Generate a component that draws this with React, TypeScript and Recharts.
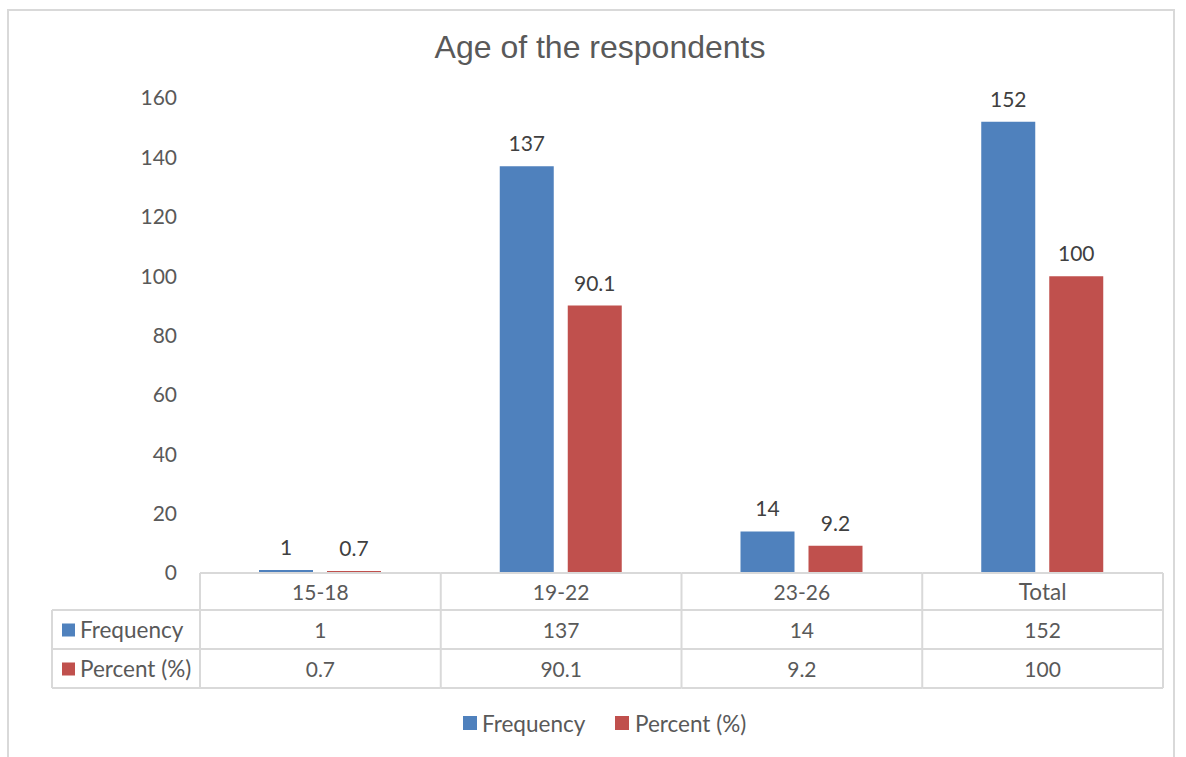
import { BarChart, Bar, XAxis, YAxis, LabelList } from 'recharts';

const categories = ['15-18', '19-22', '23-26', 'Total'];
const frequency = [1, 137, 14, 152];
const percent = [0.7, 90.1, 9.2, 100];
const yTicks = [0, 20, 40, 60, 80, 100, 120, 140, 160];
const seriesNames = ['Frequency', 'Percent (%)'];

const BLUE = '#4F81BD';
const RED = '#C0504D';
const TEXT = '#595959';
const LINE = '#D9D9D9';
const FONT = 'Lato, "Open Sans", sans-serif';
const NUM_SIZE = 21;
const WORD_SIZE = 22.5;

const W = 1186;
const H = 757;
const PLOT_LEFT = 200;
const PLOT_RIGHT = 1163;
const PLOT_TOP = 98;
const PLOT_BOTTOM = 573;
const ROWS = [0, 37, 76, 115]; // table row boundaries below the axis
const LEFT_COL = 52;

const data = categories.map((c, i) => ({
  category: c,
  frequency: frequency[i],
  percent: percent[i],
}));

const sizeFor = (s: string | number) => (/[A-Za-z]/.test(String(s)) ? WORD_SIZE : NUM_SIZE);

// draws one column of the data table under the plot (plus the row headers on the first one)
function TableTick(props: any) {
  const { x, y, payload, index } = props;
  const half = payload?.offset > 0 ? payload.offset : (PLOT_RIGHT - PLOT_LEFT) / categories.length / 2;
  const i = index;
  const left = x - half;
  const right = x + half;
  const rowMid = (r: number) => y + (ROWS[r] + ROWS[r + 1]) / 2;
  const txt = { fontFamily: FONT, fill: TEXT };

  return (
    <g>
      {i === 0 && (
        <g>
          <line x1={LEFT_COL} x2={left} y1={y + ROWS[1]} y2={y + ROWS[1]} stroke={LINE} strokeWidth={2} />
          <line x1={LEFT_COL} x2={left} y1={y + ROWS[2]} y2={y + ROWS[2]} stroke={LINE} strokeWidth={2} />
          <line x1={LEFT_COL} x2={left} y1={y + ROWS[3]} y2={y + ROWS[3]} stroke={LINE} strokeWidth={2} />
          <line x1={LEFT_COL} x2={LEFT_COL} y1={y + ROWS[1]} y2={y + ROWS[3]} stroke={LINE} strokeWidth={2} />
          <line x1={left} x2={left} y1={y} y2={y + ROWS[3]} stroke={LINE} strokeWidth={2} />
          <rect x={62} y={rowMid(1) - 6} width={13} height={13} fill={BLUE} />
          <text x={80} y={rowMid(1)} dominantBaseline="central" fontSize={WORD_SIZE} {...txt}>{seriesNames[0]}</text>
          <rect x={62} y={rowMid(2) - 6} width={13} height={13} fill={RED} />
          <text x={80} y={rowMid(2)} dominantBaseline="central" fontSize={WORD_SIZE} {...txt}>{seriesNames[1]}</text>
        </g>
      )}
      <line x1={right} x2={right} y1={y} y2={y + ROWS[3]} stroke={LINE} strokeWidth={2} />
      <line x1={left} x2={right} y1={y + ROWS[0]} y2={y + ROWS[0]} stroke={LINE} strokeWidth={2} />
      <line x1={left} x2={right} y1={y + ROWS[1]} y2={y + ROWS[1]} stroke={LINE} strokeWidth={2} />
      <line x1={left} x2={right} y1={y + ROWS[2]} y2={y + ROWS[2]} stroke={LINE} strokeWidth={2} />
      <line x1={left} x2={right} y1={y + ROWS[3]} y2={y + ROWS[3]} stroke={LINE} strokeWidth={2} />
      <text x={x} y={rowMid(0)} textAnchor="middle" dominantBaseline="central" fontSize={sizeFor(payload.value)} {...txt}>{payload.value}</text>
      <text x={x} y={rowMid(1)} textAnchor="middle" dominantBaseline="central" fontSize={NUM_SIZE} {...txt}>{frequency[i]}</text>
      <text x={x} y={rowMid(2)} textAnchor="middle" dominantBaseline="central" fontSize={NUM_SIZE} {...txt}>{percent[i]}</text>
    </g>
  );
}

export default function App() {
  const yAxisWidth = 60;
  const labelStyle = { fontFamily: FONT, fontSize: NUM_SIZE, fill: '#404040' };
  return (
    <div style={{ position: 'absolute', left: 0, top: 0, width: W, height: H, background: '#fff', overflow: 'hidden' }}>
      <div
        style={{
          position: 'absolute', left: 7, top: 9, width: 1168, height: 760,
          border: `2px solid ${LINE}`, boxSizing: 'border-box',
        }}
      />
      <svg width={W} height={80} style={{ position: 'absolute', left: 0, top: 0 }}>
        <text x={600} y={58} textAnchor="middle" fontFamily='"Liberation Sans", Arial, sans-serif' fontSize={32} fill={TEXT}>
          Age of the respondents
        </text>
      </svg>

      <BarChart
        width={W}
        height={H}
        data={data}
        margin={{ top: PLOT_TOP, bottom: H - PLOT_BOTTOM - ROWS[3], left: PLOT_LEFT - yAxisWidth, right: W - PLOT_RIGHT }}
        barSize={54}
        barGap={14}
        style={{ position: 'absolute', left: 0, top: 0 }}
      >
        <YAxis
          width={yAxisWidth}
          domain={[0, 160]}
          ticks={yTicks}
          axisLine={false}
          tickLine={false}
          tickSize={0}
          tickMargin={23}
          tick={{ fontFamily: FONT, fontSize: NUM_SIZE, fill: TEXT }}
        />
        <XAxis
          dataKey="category"
          height={ROWS[3]}
          axisLine={false}
          tickLine={false}
          tickSize={0}
          tickMargin={0}
          interval={0}
          tick={<TableTick />}
        />
        <Bar dataKey="frequency" fill={BLUE} isAnimationActive={false}>
          <LabelList dataKey="frequency" position="top" offset={15} style={labelStyle} />
        </Bar>
        <Bar dataKey="percent" fill={RED} isAnimationActive={false}>
          <LabelList dataKey="percent" position="top" offset={15} style={labelStyle} />
        </Bar>
      </BarChart>

      {/* legend */}
      <div
        style={{
          position: 'absolute', left: 463, top: 709, height: 28, display: 'flex',
          alignItems: 'center', fontFamily: FONT, fontSize: WORD_SIZE, color: TEXT, whiteSpace: 'nowrap',
        }}
      >
        <span style={{ width: 14, height: 14, background: BLUE, display: 'inline-block', marginRight: 5 }} />
        <span style={{ display: 'inline-block', width: 133 }}>{seriesNames[0]}</span>
        <span style={{ width: 14, height: 14, background: RED, display: 'inline-block', marginRight: 6 }} />
        <span>{seriesNames[1]}</span>
      </div>
    </div>
  );
}
